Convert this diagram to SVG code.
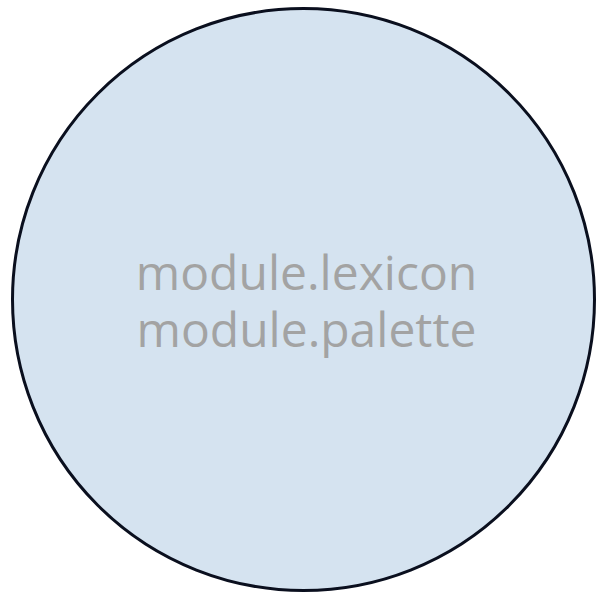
<svg xmlns="http://www.w3.org/2000/svg" width="596" height="596" viewBox="0 0 596 596">
<style>
.lbl{font-family:"Open Sans","Noto Sans",sans-serif;font-size:48px;fill:#a3a3a3;text-anchor:middle}
</style>
<rect width="596" height="596" fill="#ffffff"/>
<g id="node1">
<circle cx="303.5" cy="299.5" r="291" fill="#d5e3f0" stroke="#0a0f1e" stroke-width="3"/>
<text class="lbl" x="306.5" y="290">module.lexicon</text>
<text class="lbl" x="306.5" y="347">module.palette</text>
</g>
<g id="connectors"></g>
</svg>
